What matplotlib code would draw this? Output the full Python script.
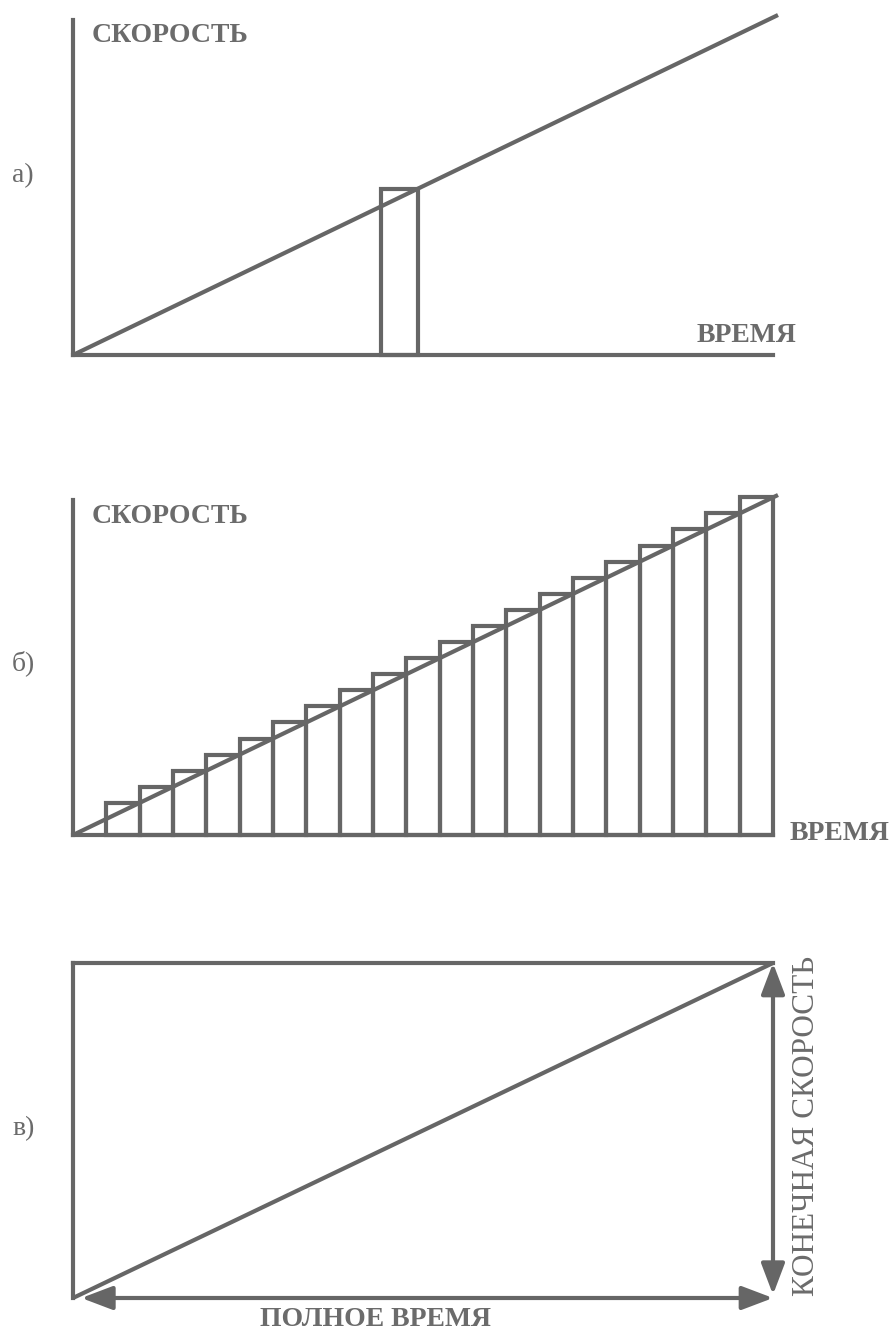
import matplotlib.pyplot as plt
from matplotlib.patches import Rectangle

# figure is 893 x 1333 px, all panels share the same scale:
# time 0..21 on the horizontal axis, speed 0..10.05 on the vertical one
W, H = 893, 1333
GREY = '#666666'
TXT = '#6b6b6b'
LW = 3.0

# panel a) - straight speed line and a single thin strip
line_a_t = [0, 21.15]
line_a_v = [0, 10.2]
strip_a_t0, strip_a_t1 = 9.24, 10.35
strip_a_v = 4.99

# panel b) - staircase of 20 strips under the same line
line_b_t = [0, 21.15]
line_b_v = [0, 10.2]
strips_b_t0 = [1, 2, 3, 4, 5, 6, 7, 8, 9, 10, 11, 12, 13, 14, 15, 16, 17, 18, 19, 20]
strips_b_v = [0.96, 1.45, 1.93, 2.41, 2.89, 3.38, 3.86, 4.34, 4.82, 5.31,
              5.79, 6.27, 6.75, 7.24, 7.72, 8.20, 8.68, 9.17, 9.65, 10.13]

# panel c) - whole triangle inside the rectangle
total_time = 21
final_speed = 10.05

T_MAX, V_MAX = 21, 10.05


def px(x, y):
    # pixel position (from the top left) -> figure fraction
    return x / W, 1 - y / H


def make_axes(fig, top_px, bottom_px):
    left, bottom = px(73, bottom_px)
    ax = fig.add_axes([left, bottom, 700 / W, (bottom_px - top_px) / H])
    ax.set_xlim(0, T_MAX)
    ax.set_ylim(0, V_MAX)
    ax.set_xticks([])
    ax.set_yticks([])
    ax.patch.set_visible(False)
    for s in ax.spines.values():
        s.set_color(GREY)
        s.set_linewidth(LW)
        s.set_capstyle('projecting')
    ax.spines['top'].set_visible(False)
    ax.spines['right'].set_visible(False)
    return ax


fig = plt.figure(figsize=(W / 100, H / 100), dpi=100)

bold = dict(family=['Liberation Serif', 'DejaVu Serif'], fontweight='bold',
            color=TXT, fontsize=20)
reg = dict(family=['Liberation Serif', 'DejaVu Serif'], color=TXT)

# ---- a)
ax_a = make_axes(fig, 20, 355)
ax_a.plot(line_a_t, line_a_v, color=GREY, lw=LW, clip_on=False,
          solid_capstyle='butt')
ax_a.add_patch(Rectangle((strip_a_t0, 0), strip_a_t1 - strip_a_t0, strip_a_v,
                         fill=False, edgecolor=GREY, lw=LW, clip_on=False))

# ---- b)
ax_b = make_axes(fig, 500, 835)
ax_b.plot(line_b_t, line_b_v, color=GREY, lw=LW, clip_on=False,
          solid_capstyle='butt')
ax_b.bar(strips_b_t0, strips_b_v, width=1, align='edge', fill=False,
         edgecolor=GREY, linewidth=LW, clip_on=False)

# ---- c)
ax_c = make_axes(fig, 963, 1298)
ax_c.spines['top'].set_visible(True)
ax_c.spines['bottom'].set_visible(False)
ax_c.plot([0, total_time], [0, final_speed], color=GREY, lw=LW,
          clip_on=False, solid_capstyle='butt')
arrow = dict(arrowstyle='<|-|>,head_length=0.95,head_width=0.36',
             mutation_scale=20, color=GREY, lw=LW, shrinkA=0, shrinkB=0)
ax_c.annotate('', xy=(total_time, 0), xytext=(0.25, 0),
              arrowprops=arrow, annotation_clip=False)
ax_c.annotate('', xy=(total_time, final_speed), xytext=(total_time, 0.1),
              arrowprops=arrow, annotation_clip=False)

# ---- texts
fig.text(*px(92, 42), 'СКОРОСТЬ', ha='left', va='baseline', **bold)
fig.text(*px(697, 342), 'ВРЕМЯ', ha='left', va='baseline', **bold)
fig.text(*px(92, 523), 'СКОРОСТЬ', ha='left', va='baseline', **bold)
fig.text(*px(790, 840), 'ВРЕМЯ', ha='left', va='baseline', **bold)
fig.text(*px(376, 1326), 'ПОЛНОЕ ВРЕМЯ', ha='center', va='baseline', **bold)
fig.text(*px(807, 1126), 'КОНЕЧНАЯ СКОРОСТЬ', rotation=90, ha='center',
         va='center', fontsize=22.5, **reg)

fig.text(*px(12, 182), 'а)', ha='left', va='baseline', fontsize=20, **reg)
fig.text(*px(12, 670), 'б)', ha='left', va='baseline', fontsize=20, **reg)
fig.text(*px(12, 1135), 'в)', ha='left', va='baseline', fontsize=20, **reg)

fig.savefig('out.png', dpi=100, facecolor='white')
